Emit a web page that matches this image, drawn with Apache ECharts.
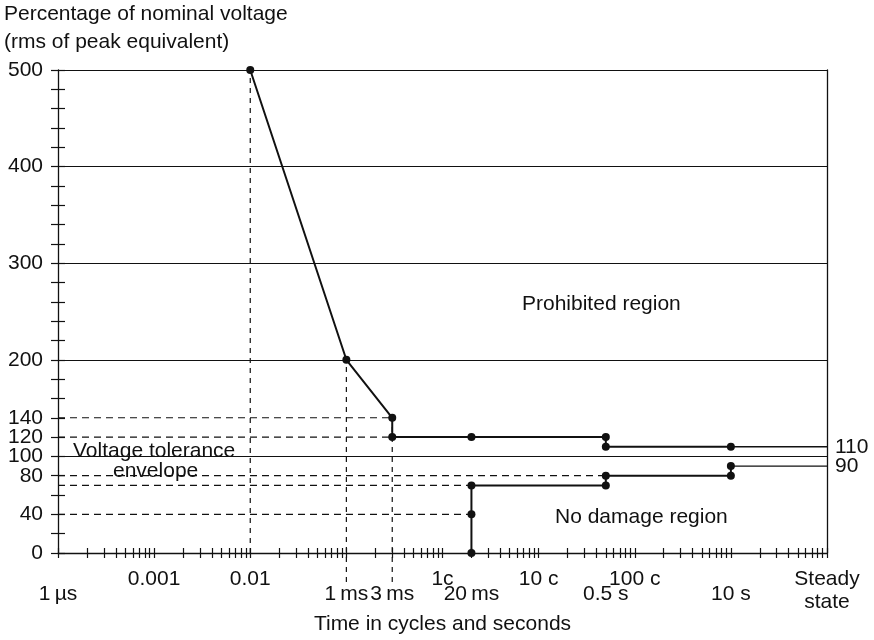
<!DOCTYPE html>
<html>
<head>
<meta charset="utf-8">
<script src="https://cdn.jsdelivr.net/npm/echarts@6/dist/echarts.min.js"></script>
<style>
html,body{margin:0;padding:0;background:#fff;}
#chart{width:874px;height:640px;}
</style>
</head>
<body>
<div id="chart"></div>
<script>
// ---- Data (time in seconds on a log axis, voltage in % of nominal) ----
const upperX = [1e-4, 1e-3, 3e-3, 3e-3, 0.02, 0.5, 0.5, 10];
const upperY = [500, 200, 140, 120, 120, 120, 110, 110];
const upperTailX = [10, 100];
const upperTailY = [110, 110];

const lowerX = [0.02, 0.02, 0.02, 0.5, 0.5, 10, 10];
const lowerY = [0, 40, 70, 70, 80, 80, 90];
const lowerTailX = [10, 100];
const lowerTailY = [90, 90];

// dashed guide lines
const guideVx = [1e-4, 1e-3, 3e-3];
const guideVfrom = [0, -30, -30];
const guideVto = [500, 200, 140];
const guideHy = [140, 120, 80, 70, 40];
const guideHfrom = [1e-6, 1e-6, 1e-6, 1e-6, 1e-6];
const guideHto = [3e-3, 3e-3, 0.5, 0.02, 0.02];

// axis ticks & labels
const xDecadeExps = [-6, -5, -4, -3, -2, -1, 0, 1, 2];
const xMinorMult = [2, 3, 4, 5, 6, 7, 8, 9];
const xRow1Values = [1e-5, 1e-4, 1e-2, 1e-1, 1, 100];
const xRow1Labels = ['0.001', '0.01', '1c', '10 c', '100 c', 'Steady\nstate'];
const xRow2Values = [1e-6, 1e-3, 3e-3, 0.02, 0.5, 10];
const xRow2Labels = ['1\u2009µs', '1\u2009ms', '3\u2009ms', '20\u2009ms', '0.5 s', '10 s'];

const yLabelValues = [0, 40, 80, 100, 120, 140, 200, 300, 400, 500];
const yTickStep = 20;
const yRightUpperValue = [110];
const yRightLowerValue = [90];

// ---- build helpers ----
const xTickValues = [];
xDecadeExps.forEach(function (e, i) {
  const base = Math.pow(10, e);
  xTickValues.push(base);
  if (i < xDecadeExps.length - 1) {
    xMinorMult.forEach(function (m) { xTickValues.push(m * base); });
  }
});
const yTickValues = [];
for (let v = 0; v <= 500; v += yTickStep) yTickValues.push(v);

function lookup(values, labels) {
  return function (val) {
    for (let i = 0; i < values.length; i++) {
      if (Math.abs(val - values[i]) <= Math.abs(values[i]) * 1e-6 + 1e-12) return labels[i];
    }
    return '';
  };
}
function zip(xs, ys) { return xs.map(function (x, i) { return [x, ys[i]]; }); }

const FONT = "'Liberation Sans', Arial, Helvetica, sans-serif";
const FS = 21;
const INK = '#111';

const guideSeries = [];
guideVx.forEach(function (x, i) {
  guideSeries.push({
    type: 'line', xAxisIndex: 0, yAxisIndex: 0, clip: false, silent: true,
    showSymbol: false, symbol: 'none',
    lineStyle: { color: INK, width: 1.2, type: [5, 5] },
    data: [[x, guideVfrom[i]], [x, guideVto[i]]], z: 2
  });
});
guideHy.forEach(function (y, i) {
  guideSeries.push({
    type: 'line', xAxisIndex: 0, yAxisIndex: 0, clip: false, silent: true,
    showSymbol: false, symbol: 'none',
    lineStyle: { color: INK, width: 1.2, type: [7, 5] },
    data: [[guideHfrom[i], y], [guideHto[i], y]], z: 2
  });
});

const baseX = {
  type: 'log', logBase: 10, min: 1e-6, max: 100, position: 'bottom',
  splitLine: { show: false }, minorTick: { show: false }, minorSplitLine: { show: false }
};
const baseY = { type: 'value', min: 0, max: 500, position: 'left', splitLine: { show: false } };

const option = {
  animation: false,
  backgroundColor: '#fff',
  textStyle: { fontFamily: FONT, color: INK },
  title: {
    text: 'Percentage of nominal voltage\n(rms of peak equivalent)',
    left: 4, top: 0, padding: 0,
    textStyle: { fontFamily: FONT, fontSize: FS, fontWeight: 'normal', color: INK, lineHeight: 28 }
  },
  grid: { left: 58, right: 47, top: 70, bottom: 85, containLabel: false },
  xAxis: [
    Object.assign({}, baseX, {
      axisLine: { show: true, onZero: false, lineStyle: { color: INK, width: 1.3 } },
      axisTick: { show: true, inside: true, length: 5, customValues: xTickValues, lineStyle: { color: INK, width: 1.2 } },
      axisLabel: {
        show: true, margin: 15, customValues: xRow1Values, formatter: lookup(xRow1Values, xRow1Labels),
        fontFamily: FONT, fontSize: FS, color: INK, lineHeight: 23, hideOverlap: false
      }
    }),
    Object.assign({}, baseX, {
      axisLine: { show: false, onZero: false },
      axisTick: { show: true, inside: false, length: 5, customValues: xTickValues, lineStyle: { color: INK, width: 1.2 } },
      axisLabel: {
        show: true, margin: 31, customValues: xRow2Values, formatter: lookup(xRow2Values, xRow2Labels),
        fontFamily: FONT, fontSize: FS, color: INK, hideOverlap: false
      },
      name: 'Time in cycles and seconds', nameLocation: 'middle', nameGap: 61,
      nameTextStyle: { fontFamily: FONT, fontSize: FS, color: INK }
    })
  ],
  yAxis: [
    Object.assign({}, baseY, {
      axisLine: { show: true, onZero: false, lineStyle: { color: INK, width: 1.3 } },
      axisTick: { show: true, inside: false, length: 7, customValues: yTickValues, lineStyle: { color: INK, width: 1.2 } },
      axisLabel: { show: true, margin: 15, customValues: yLabelValues, fontFamily: FONT, fontSize: FS, color: INK, hideOverlap: false }
    }),
    Object.assign({}, baseY, {
      axisLine: { show: false, onZero: false },
      axisTick: { show: true, inside: true, length: 7, customValues: yTickValues, lineStyle: { color: INK, width: 1.2 } },
      axisLabel: { show: false }
    }),
    Object.assign({}, baseY, {
      interval: 100,
      axisLine: { show: false }, axisTick: { show: false }, axisLabel: { show: false },
      splitLine: { show: true, lineStyle: { color: INK, width: 1.2, type: 'solid' } }
    }),
    Object.assign({}, baseY, {
      position: 'right',
      axisLine: { show: true, onZero: false, lineStyle: { color: INK, width: 1.3 } },
      axisTick: { show: false },
      axisLabel: { show: true, margin: 8, customValues: yRightUpperValue, fontFamily: FONT, fontSize: FS, color: INK, hideOverlap: false }
    }),
    Object.assign({}, baseY, {
      position: 'right',
      axisLine: { show: false, onZero: false },
      axisTick: { show: false },
      axisLabel: { show: true, margin: 8, customValues: yRightLowerValue, fontFamily: FONT, fontSize: FS, color: INK, hideOverlap: false }
    })
  ],
  series: guideSeries.concat([
    {
      type: 'line', xAxisIndex: 0, yAxisIndex: 0, silent: true, z: 5,
      data: zip(upperX, upperY), symbol: 'circle', symbolSize: 8, showSymbol: true,
      lineStyle: { color: INK, width: 2 }, itemStyle: { color: INK }
    },
    {
      type: 'line', xAxisIndex: 0, yAxisIndex: 0, silent: true, z: 4,
      data: zip(upperTailX, upperTailY), showSymbol: false, symbol: 'none',
      lineStyle: { color: INK, width: 1.3 }
    },
    {
      type: 'line', xAxisIndex: 0, yAxisIndex: 0, silent: true, z: 5,
      data: zip(lowerX, lowerY), symbol: 'circle', symbolSize: 8, showSymbol: true,
      lineStyle: { color: INK, width: 2 }, itemStyle: { color: INK }
    },
    {
      type: 'line', xAxisIndex: 0, yAxisIndex: 0, silent: true, z: 4,
      data: zip(lowerTailX, lowerTailY), showSymbol: false, symbol: 'none',
      lineStyle: { color: INK, width: 1.3 }
    }
  ]),
  graphic: [
    { type: 'text', left: 522, top: 294, style: { text: 'Prohibited region', font: FS + "px " + FONT, fill: INK } },
    { type: 'text', left: 555, top: 507, style: { text: 'No damage region', font: FS + "px " + FONT, fill: INK } },
    { type: 'text', left: 73, top: 441, style: { text: 'Voltage tolerance', font: FS + "px " + FONT, fill: INK } },
    { type: 'text', left: 113, top: 461, style: { text: 'envelope', font: FS + "px " + FONT, fill: INK } }
  ]
};

const chart = echarts.init(document.getElementById('chart'), null, { renderer: 'canvas' });
chart.setOption(option);
</script>
</body>
</html>
